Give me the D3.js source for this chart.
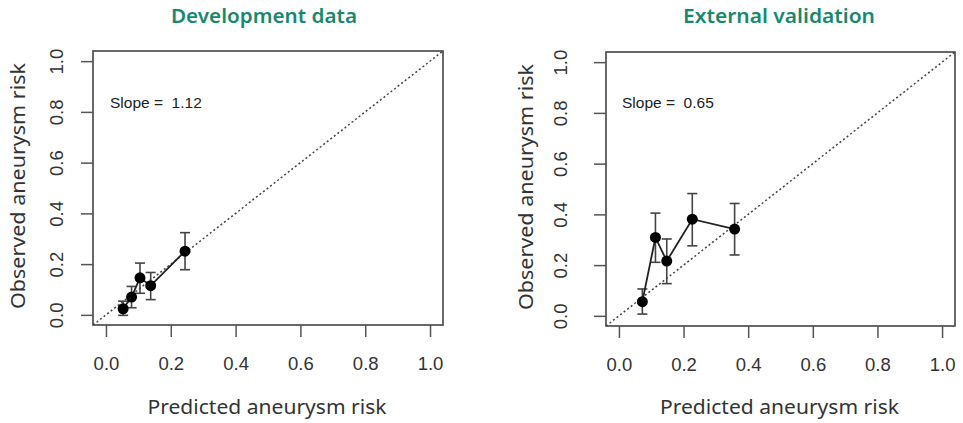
<!DOCTYPE html>
<html><head><meta charset="utf-8">
<script src="https://cdn.jsdelivr.net/npm/d3@7"></script>
<style>
html,body{margin:0;padding:0;background:#fff;}
svg{display:block;}
</style></head>
<body>
<svg id="chart" width="963" height="423"></svg>
<script>
// ---- data ----
const panelTitles = ["Development data", "External validation"];
const slopeLabels = ["Slope =  1.12", "Slope =  0.65"];
const tickValues = [0, 0.2, 0.4, 0.6, 0.8, 1.0];
const tickLabels = ["0.0", "0.2", "0.4", "0.6", "0.8", "1.0"];
const xTitle = "Predicted aneurysm risk";
const yTitle = "Observed aneurysm risk";

const devPredicted = [0.053, 0.079, 0.105, 0.138, 0.244];
const devObserved  = [0.024, 0.070, 0.146, 0.115, 0.251];
const devLower     = [-0.002, 0.028, 0.085, 0.060, 0.178];
const devUpper     = [0.054, 0.112, 0.204, 0.167, 0.324];

const extPredicted = [0.0725, 0.113, 0.148, 0.227, 0.358];
const extObserved  = [0.056, 0.309, 0.216, 0.381, 0.342];
const extLower     = [0.007, 0.211, 0.127, 0.276, 0.240];
const extUpper     = [0.106, 0.405, 0.303, 0.482, 0.443];

// ---- layout ----
const panels = [
  {title: panelTitles[0], slope: slopeLabels[0], x: devPredicted, y: devObserved, lo: devLower, hi: devUpper,
   box: {l: 93, r: 443, t: 51, b: 325}, titleX: 264, titleLen: 186, yLabX: 63, yTitleX: 25, slopeX: 110},
  {title: panelTitles[1], slope: slopeLabels[1], x: extPredicted, y: extObserved, lo: extLower, hi: extUpper,
   box: {l: 606, r: 955, t: 52, b: 326}, titleX: 779, titleLen: 192, yLabX: 567, yTitleX: 533, slopeX: 622}
];

const svg = d3.select("#chart");
const numFont = "'Liberation Sans', Arial, Helvetica, sans-serif";
const textFont = "'Noto Sans', 'Open Sans', sans-serif";

panels.forEach((p, i) => {
  const xs = d3.scaleLinear().domain([-0.04, 1.04]).range([p.box.l, p.box.r]);
  const ys = d3.scaleLinear().domain([-0.04, 1.04]).range([p.box.b, p.box.t]);
  const g = svg.append("g");

  // title
  g.append("text").attr("x", p.titleX).attr("y", 23)
    .attr("text-anchor", "middle").attr("font-family", textFont)
    .attr("font-weight", 600).attr("font-size", 20).attr("fill", "#17896e")
    .attr("textLength", p.titleLen).attr("lengthAdjust", "spacingAndGlyphs")
    .text(p.title);

  // clip
  const cid = "clip" + i;
  svg.append("clipPath").attr("id", cid).append("rect")
    .attr("x", p.box.l).attr("y", p.box.t)
    .attr("width", p.box.r - p.box.l).attr("height", p.box.b - p.box.t);

  // diagonal
  g.append("line").attr("clip-path", `url(#${cid})`)
    .attr("x1", xs(-0.04)).attr("y1", ys(-0.04))
    .attr("x2", xs(1.04)).attr("y2", ys(1.04))
    .attr("stroke", "#444").attr("stroke-width", 1.5)
    .attr("stroke-dasharray", "2,2.5");

  // box
  g.append("rect").attr("x", p.box.l).attr("y", p.box.t)
    .attr("width", p.box.r - p.box.l).attr("height", p.box.b - p.box.t)
    .attr("fill", "none").attr("stroke", "#444").attr("stroke-width", 1.6);

  // x axis
  const xAxis = d3.axisBottom(xs).tickValues(tickValues)
    .tickFormat((d, k) => tickLabels[k]).tickSize(12).tickPadding(20);
  const xg = g.append("g").attr("transform", `translate(0,${p.box.b})`).call(xAxis);
  xg.select(".domain").remove();
  xg.selectAll(".tick line").attr("stroke", "#555").attr("stroke-width", 1.5);
  xg.selectAll(".tick text").attr("font-family", numFont).attr("font-size", 18.5)
    .attr("fill", "#333").attr("dy", null).attr("y", 45);

  // y axis
  const yAxis = d3.axisLeft(ys).tickValues(tickValues)
    .tickFormat((d, k) => tickLabels[k]).tickSize(12);
  const yg = g.append("g").attr("transform", `translate(${p.box.l},0)`).call(yAxis);
  yg.select(".domain").remove();
  yg.selectAll(".tick line").attr("stroke", "#555").attr("stroke-width", 1.5);
  yg.selectAll(".tick text").attr("font-family", numFont).attr("font-size", 18.5)
    .attr("fill", "#333").attr("x", null).attr("dy", null)
    .attr("text-anchor", "middle")
    .attr("transform", `translate(${p.yLabX - p.box.l},0) rotate(-90)`);

  // axis titles
  g.append("text").attr("x", (p.box.l + p.box.r) / 2 - 1).attr("y", 414)
    .attr("text-anchor", "middle").attr("font-family", textFont)
    .attr("font-size", 20.5).attr("fill", "#333")
    .attr("textLength", 239).attr("lengthAdjust", "spacingAndGlyphs").text(xTitle);
  g.append("text")
    .attr("transform", `translate(${p.yTitleX},${(p.box.t + p.box.b) / 2 - 2}) rotate(-90)`)
    .attr("text-anchor", "middle").attr("font-family", textFont)
    .attr("font-size", 20.5).attr("fill", "#333")
    .attr("textLength", 246).attr("lengthAdjust", "spacingAndGlyphs").text(yTitle);

  // slope text
  g.append("text").attr("x", p.slopeX).attr("y", 108)
    .attr("font-family", numFont).attr("font-size", 15.5).attr("fill", "#222")
    .style("white-space", "pre").attr("xml:space", "preserve")
    .text(p.slope);

  // data
  const idx = d3.range(p.x.length).sort((a, b) => p.x[a] - p.x[b]);
  const pts = idx.map(k => ({x: p.x[k], y: p.y[k], lo: p.lo[k], hi: p.hi[k]}));

  // error bars
  const eb = g.append("g").attr("stroke", "#444").attr("stroke-width", 1.6);
  pts.forEach(d => {
    eb.append("line").attr("x1", xs(d.x)).attr("x2", xs(d.x)).attr("y1", ys(d.lo)).attr("y2", ys(d.hi));
    eb.append("line").attr("x1", xs(d.x) - 5).attr("x2", xs(d.x) + 5).attr("y1", ys(d.lo)).attr("y2", ys(d.lo));
    eb.append("line").attr("x1", xs(d.x) - 5).attr("x2", xs(d.x) + 5).attr("y1", ys(d.hi)).attr("y2", ys(d.hi));
  });

  // connecting line
  g.append("path").datum(pts)
    .attr("d", d3.line().x(d => xs(d.x)).y(d => ys(d.y)))
    .attr("fill", "none").attr("stroke", "#222").attr("stroke-width", 1.8);

  // points
  g.selectAll("circle.pt").data(pts).join("circle").attr("class", "pt")
    .attr("cx", d => xs(d.x)).attr("cy", d => ys(d.y)).attr("r", 5.5)
    .attr("fill", "#000");
});
</script>
</body></html>
